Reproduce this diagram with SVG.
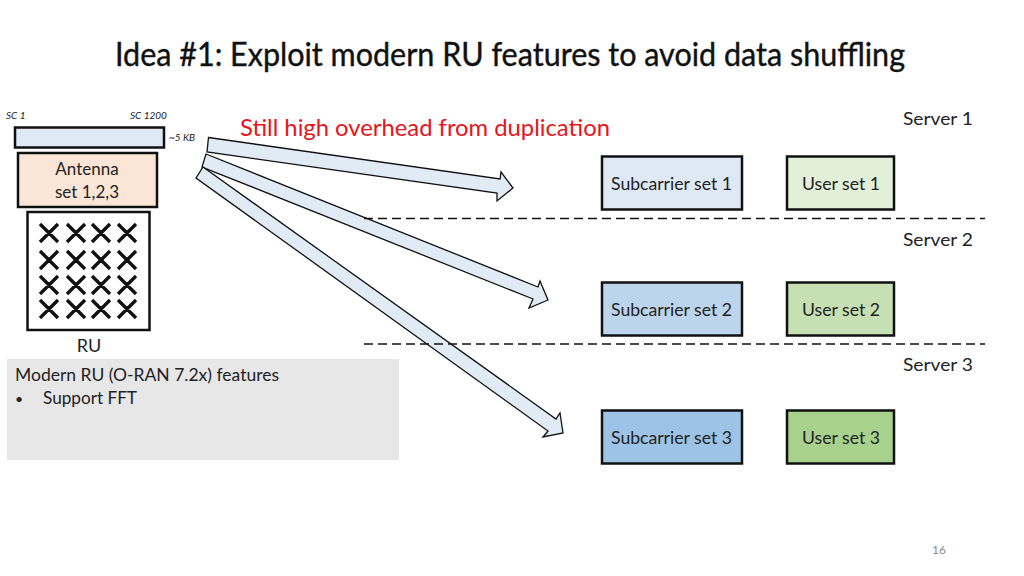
<svg xmlns="http://www.w3.org/2000/svg" width="1024" height="576" viewBox="0 0 1024 576">
<style>
text{font-family:"Lato","Carlito","Open Sans",sans-serif;fill:#222}
.b{stroke:#111;stroke-width:2.5}
.t{font-size:17px;text-anchor:middle}
.i{font-size:10px;font-style:italic}
.x{stroke:#111;stroke-width:3.4;fill:none}
.a{fill:#e1ebf6;stroke:#111;stroke-width:1.3;stroke-linejoin:miter}
.d{stroke:#111;stroke-width:1.5;stroke-dasharray:9 5;fill:none}
.s{font-size:18px;text-anchor:middle}
</style>
<rect width="1024" height="576" fill="#fff"/>
<text id="title" x="115" y="66" textLength="790" lengthAdjust="spacingAndGlyphs" style="font-size:32px;fill:#111;stroke:#111;stroke-width:.4">Idea #1: Exploit modern RU features to avoid data shuffling</text>
<g id="sc-bar"><rect class="b" x="15" y="127.500" width="149" height="20" fill="#dfe9f5"/>
<text class="i" x="6" y="119">SC 1</text><text class="i" x="130" y="119">SC 1200</text><text class="i" x="169" y="141">~5 KB</text></g>
<g id="antenna"><rect class="b" x="18" y="153" width="139" height="54" fill="#fbe5d6"/>
<text class="t" x="87" y="175">Antenna</text><text class="t" x="87" y="198">set 1,2,3</text></g>
<g id="ru"><rect class="b" x="27.500" y="212" width="122" height="118" fill="#fff"/>
<path class="x" d="M40 224l18 18m0-18l-18 18M67 224l18 18m0-18l-18 18M92 224l18 18m0-18l-18 18M118 224l18 18m0-18l-18 18
M40 251l18 18m0-18l-18 18M67 251l18 18m0-18l-18 18M92 251l18 18m0-18l-18 18M118 251l18 18m0-18l-18 18
M40 276l18 18m0-18l-18 18M67 276l18 18m0-18l-18 18M92 276l18 18m0-18l-18 18M118 276l18 18m0-18l-18 18
M40 300l18 18m0-18l-18 18M67 300l18 18m0-18l-18 18M92 300l18 18m0-18l-18 18M118 300l18 18m0-18l-18 18"/>
<text class="t" x="89" y="352" style="font-size:18px">RU</text></g>
<g id="features"><rect x="7" y="359" width="392" height="101" fill="#e7e7e7"/>
<text x="15" y="381" style="font-size:17px" textLength="264" lengthAdjust="spacingAndGlyphs">Modern RU (O-RAN 7.2x) features</text>
<text x="15" y="404" style="font-size:14px">•</text><text x="43" y="404" style="font-size:17px" textLength="94" lengthAdjust="spacingAndGlyphs">Support FFT</text></g>
<text id="note" x="240" y="136" textLength="370" lengthAdjust="spacingAndGlyphs" style="font-size:23px;fill:#e8141c">Still high overhead from duplication</text>
<g id="connectors">
<polygon class="a" points="208.500,137.500 500,179 501,172 513,188 497,201 497,193 207,152"/>
<polygon class="a" points="206,154 538,287 540,281 548,300 529,308 533,299 202,167"/>
<polygon class="a" points="203,167 556,419 560,413 563,433 543,437 548,431 196,178"/>
<path class="d" d="M364 218.500H985M364 344H985"/>
</g>
<g id="s1"><text class="s" x="938" y="125" textLength="70" lengthAdjust="spacingAndGlyphs">Server 1</text>
<g id="sub1"><rect class="b" x="602" y="156.500" width="140" height="53" fill="#dfe9f5"/><text class="t" x="671.500" y="190" textLength="121" lengthAdjust="spacingAndGlyphs">Subcarrier set 1</text></g>
<g id="user1"><rect class="b" x="787" y="156.500" width="107" height="53" fill="#e2efd9"/><text class="t" x="841" y="190" textLength="78" lengthAdjust="spacingAndGlyphs">User set 1</text></g></g>
<g id="s2"><text class="s" x="938" y="246" textLength="70" lengthAdjust="spacingAndGlyphs">Server 2</text>
<g id="sub2"><rect class="b" x="602" y="282.500" width="140" height="53" fill="#bdd5ec"/><text class="t" x="671.500" y="316" textLength="121" lengthAdjust="spacingAndGlyphs">Subcarrier set 2</text></g>
<g id="user2"><rect class="b" x="787" y="282.500" width="107" height="53" fill="#c6e0b4"/><text class="t" x="841" y="316" textLength="78" lengthAdjust="spacingAndGlyphs">User set 2</text></g></g>
<g id="s3"><text class="s" x="938" y="371" textLength="70" lengthAdjust="spacingAndGlyphs">Server 3</text>
<g id="sub3"><rect class="b" x="602" y="410.500" width="140" height="53" fill="#9dc3e6"/><text class="t" x="671.500" y="444" textLength="121" lengthAdjust="spacingAndGlyphs">Subcarrier set 3</text></g>
<g id="user3"><rect class="b" x="787" y="410.500" width="107" height="53" fill="#a9d18e"/><text class="t" x="841" y="444" textLength="78" lengthAdjust="spacingAndGlyphs">User set 3</text></g></g>
<text id="page" x="939" y="554" style="font-size:12px;text-anchor:middle;fill:#8a8a8a">16</text>
</svg>
